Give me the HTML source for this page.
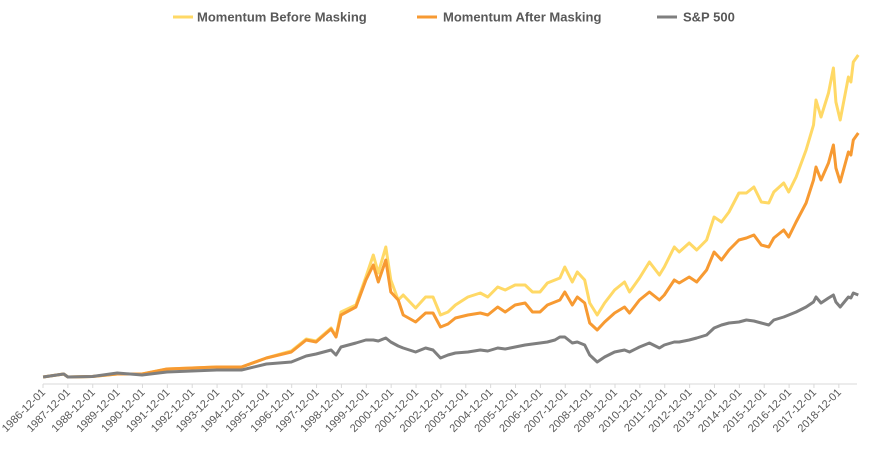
<!DOCTYPE html>
<html><head><meta charset="utf-8"><style>
html,body{margin:0;padding:0;background:#fff;}
svg{display:block;font-family:"Liberation Sans",Arial,sans-serif;}
</style></head><body>
<svg id="chart" width="874" height="464" viewBox="0 0 874 464" xmlns="http://www.w3.org/2000/svg">
<g font-size="13" font-weight="bold" fill="#595959">
 <g><line x1="173" y1="17" x2="193" y2="17" stroke="#ffd966" stroke-width="3"/><text x="197" y="21.5">Momentum Before Masking</text></g>
 <g><line x1="417" y1="17" x2="437" y2="17" stroke="#f79a32" stroke-width="3"/><text x="443" y="21.5">Momentum After Masking</text></g>
 <g><line x1="657" y1="17" x2="677" y2="17" stroke="#7f7f7f" stroke-width="3"/><text x="683" y="21.5">S&amp;P 500</text></g>
</g>
<g id="axis"></g>
<g id="series"></g>
</svg>
<script>
const dates=[1986.92,1987.75,1987.92,1988.9,1989.9,1990.9,1991.9,1992.9,1993.9,1994.9,1995.9,1996.9,1997.5,1997.9,1998.5,1998.7,1998.9,1999.5,1999.9,2000.2,2000.4,2000.7,2000.9,2001.2,2001.4,2001.9,2002.3,2002.6,2002.9,2003.2,2003.5,2004.0,2004.5,2004.8,2005.2,2005.5,2005.9,2006.3,2006.6,2006.9,2007.2,2007.5,2007.7,2007.9,2008.2,2008.4,2008.7,2008.9,2009.2,2009.5,2009.9,2010.3,2010.5,2010.9,2011.3,2011.7,2011.9,2012.3,2012.5,2012.9,2013.2,2013.6,2013.9,2014.2,2014.5,2014.9,2015.2,2015.5,2015.8,2016.1,2016.3,2016.7,2016.9,2017.2,2017.6,2017.9,2018.0,2018.2,2018.5,2018.7,2018.8,2018.97,2019.3,2019.4,2019.5,2019.7];
const beforeMasking=[7,10,7,7.5,10,10,15,16,17,17,26,33,45,43,56,48,72,79,107,129,111,137,104,84,89,76,87,87,69,72,79,87,91,87,97,94,99,99,92,92,101,104,106,117,102,112,104,81,69,81,94,102,92,106,122,109,117,137,132,141,134,144,167,162,172,191,191,197,182,181,192,201,192,207,234,259,284,267,291,316,282,264,307,302,322,329];
const afterMasking=[7,10,7,7.5,10,10,15,16,17,17,26,32,44,42,55,47,69,77,104,119,102,124,92,84,69,62,71,71,57,60,66,69,71,69,77,72,79,81,72,72,79,82,84,92,79,87,81,61,54,62,71,77,71,84,92,84,89,104,101,107,102,114,132,124,134,144,146,149,139,137,146,154,147,162,181,204,217,204,221,239,216,202,232,229,244,251];
const sp500=[7,10,7,7.5,11,9,12,13,14,14,20,22,28,30,34,29,37,41,44,44,43,46,42,38,36,32,36,34,26,29,31,32,34,33,36,35,37,39,40,41,42,44,47,47,41,42,39,29,22,27,32,34,32,37,41,36,39,42,42,44,46,49,56,59,61,62,64,63,61,59,64,67,69,72,77,82,87,81,86,89,82,77,87,86,91,89];
const tickYears=[1986,1987,1988,1989,1990,1991,1992,1993,1994,1995,1996,1997,1998,1999,2000,2001,2002,2003,2004,2005,2006,2007,2008,2009,2010,2011,2012,2013,2014,2015,2016,2017,2018];

const NS="http://www.w3.org/2000/svg";
const X0=43, PX_PER_YEAR=24.87, T0=1986.917, Y0=384, Y_MAX_VAL=350, Y_TOP=34;
function xs(t){return X0+(t-T0)*PX_PER_YEAR;}
function ys(v){return Y0-(v/Y_MAX_VAL)*(Y0-Y_TOP);}
const axis=document.getElementById('axis');
const al=document.createElementNS(NS,'line');


al.setAttribute('x1',X0);al.setAttribute('x2',857);al.setAttribute('y1',Y0);al.setAttribute('y2',Y0);
al.setAttribute('stroke','#d9d9d9');al.setAttribute('stroke-width','1');
axis.appendChild(al);
tickYears.forEach(yr=>{
  const x=xs(yr+11/12);
  const tk=document.createElementNS(NS,'line');
  
  
  tk.setAttribute('x1',x);tk.setAttribute('x2',x);tk.setAttribute('y1',Y0);tk.setAttribute('y2',Y0+4);
  tk.setAttribute('stroke','#d9d9d9');
  axis.appendChild(tk);
  const tx=document.createElementNS(NS,'text');
  
  
  tx.setAttribute('x',x+3);tx.setAttribute('y',Y0+9);
  tx.setAttribute('text-anchor','end');tx.setAttribute('font-size','11');tx.setAttribute('fill','#595959');
  tx.setAttribute('transform','rotate(-45 '+(x+3)+' '+(Y0+9)+')');
  tx.textContent=yr+'-12-01';
  axis.appendChild(tx);
});
const g=document.getElementById('series');
function draw(vals,color,name){
  const p=document.createElementNS(NS,'path');
  
  
  p.setAttribute('d',vals.map((v,i)=>(i?'L':'M')+xs(dates[i]).toFixed(1)+' '+ys(v).toFixed(1)).join(' '));
  p.setAttribute('fill','none');p.setAttribute('stroke',color);p.setAttribute('stroke-width','3');
  p.setAttribute('stroke-linejoin','round');
  g.appendChild(p);
}
draw(beforeMasking,'#ffd966','line-momentum-before-masking');
draw(afterMasking,'#f79a32','line-momentum-after-masking');
draw(sp500,'#7f7f7f','line-sp500');
</script>
</body></html>
